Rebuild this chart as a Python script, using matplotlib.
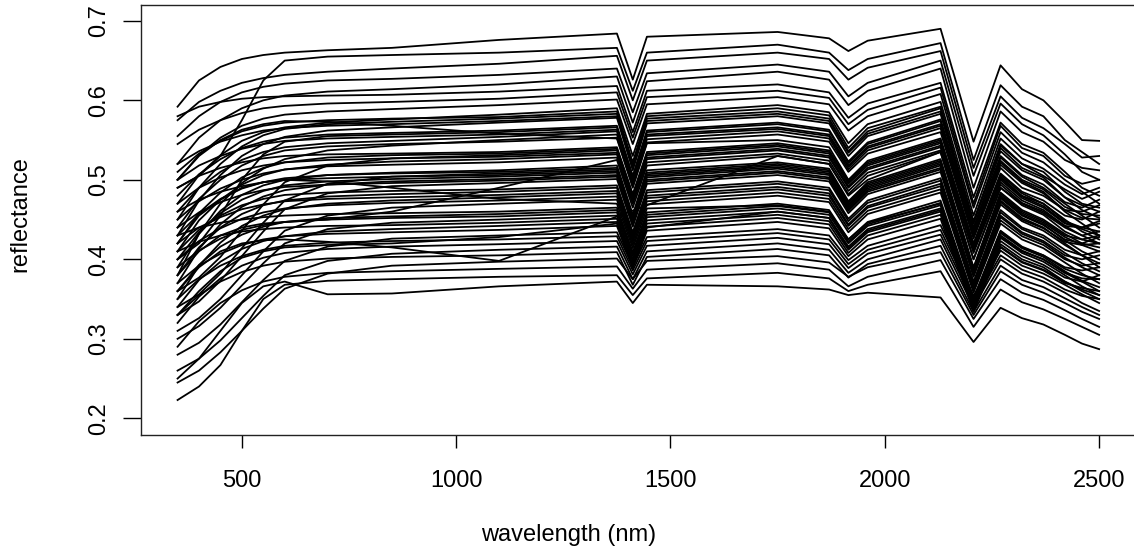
import numpy as np
import matplotlib
matplotlib.use("Agg")
import matplotlib.pyplot as plt

plt.rcParams["font.family"] = ["Liberation Sans", "DejaVu Sans"]

nan = float("nan")

wavelength_nm = [350, 400, 450, 500, 550, 600, 700, 850, 1100, 1375, 1412, 1445,
                 1750, 1870, 1915, 1960, 2130, 2207, 2270, 2320, 2370, 2420, 2460, 2500]

# brightest soils
top_tier = [
    [.592, .625, .642, .652, .657, .660, .663, .666, .676, .684, .626, .680, .686, .678, .662, .675, .690, .548, .644, .614, .600, .573, .550, .549],
    [.490, .505, .530, .575, .625, .650, .655, .657, .660, .666, .612, .660, .670, .660, .638, .652, .672, .525, .619, .592, .580, .550, .535, .520],
    [.575, .598, .612, .622, .628, .632, .636, .640, .646, .656, .600, .650, .660, .652, .626, .641, .662, .515, .605, .578, .565, .545, .528, .530],
    [.555, .580, .598, .610, .617, .621, .625, .627, .632, .640, .585, .634, .645, .636, .605, .622, .650, .505, .596, .570, .556, .532, .510, .500],
    [.520, .553, .575, .590, .600, .606, .611, .614, .620, .630, .572, .624, .636, .626, .594, .612, .640, .490, .586, .560, .548, .525, .515, .512],
    [.580, .592, .598, .602, .604, .605, .606, .607, .611, .618, .560, .612, .620, .610, .578, .596, .622, .478, .572, .545, .534, .510, .490, .480],
    [.545, .563, .575, .584, .590, .593, .596, .598, .602, .610, .553, .604, .612, .603, .570, .588, .616, .470, .568, .540, .530, .505, .495, .500],
    [.500, .531, .553, .568, .577, .582, .586, .589, .594, .601, .545, .595, .604, .595, .562, .580, .608, .465, .560, .534, .522, .500, .485, .470],
]

upper_band = [
    [.470, .506, .531, .549, .560, .566, .572, .576, .582, .590, .530, .583, .594, .585, .546, .570, .598, .455, .552, .527, .514, .494, .482, .490],
    [.510, .533, .549, .561, .568, .572, .575, .577, .579, .586, .522, .580, .590, .581, .540, .565, .592, .448, .545, .520, .510, .485, .470, .465],
    [.450, .490, .520, .542, .556, .564, .570, .573, .577, .583, .518, .577, .586, .577, .536, .561, .590, .445, .543, .520, .505, .488, .476, .485],
    [.520, .536, .548, .556, .562, .565, .568, .570, .574, .580, .517, .574, .583, .574, .534, .558, .586, .446, .540, .515, .503, .478, .462, .452],
    [.430, .474, .506, .530, .545, .554, .562, .566, .572, .578, .512, .571, .580, .571, .530, .555, .583, .440, .536, .512, .500, .478, .468, .460],
    [.480, .507, .526, .540, .548, .553, .557, .559, .562, .568, .505, .562, .572, .563, .523, .547, .576, .438, .530, .506, .494, .472, .465, .475],
    [.400, .420, .455, .500, .532, .548, .555, .557, .560, .566, .503, .560, .570, .561, .521, .545, .574, .436, .528, .504, .490, .470, .455, .440],
    [.500, .518, .530, .539, .545, .549, .552, .554, .557, .563, .501, .557, .566, .557, .518, .542, .570, .433, .524, .500, .488, .466, .457, .455],
    [.460, .490, .510, .525, .535, .541, .546, .549, .554, .561, .499, .555, .564, .555, .516, .540, .568, .432, .522, .498, .485, .460, .445, .430],
    [.380, .432, .470, .496, .514, .526, .537, .543, .550, .557, .496, .551, .561, .552, .513, .537, .565, .429, .519, .496, .483, .462, .452, .450],
    [.440, .476, .500, .518, .530, .537, .542, .545, .548, .553, .492, .547, .557, .548, .510, .533, .560, .426, .515, .490, .480, .462, .460, .468],
    [.490, .505, .515, .522, .527, .530, .532, .533, .535, .541, .482, .535, .546, .537, .499, .522, .550, .418, .506, .483, .470, .450, .435, .425],
    [.420, .458, .484, .503, .515, .522, .528, .531, .533, .539, .480, .533, .544, .535, .497, .520, .548, .416, .504, .480, .470, .448, .440, .435],
    [.360, .377, .403, .436, .469, .497, .518, .527, .531, .537, .478, .531, .542, .533, .495, .518, .546, .415, .502, .479, .467, .446, .438, .430],
    [.470, .490, .503, .512, .518, .522, .525, .527, .529, .534, .475, .528, .539, .530, .492, .515, .543, .413, .500, .477, .465, .445, .440, .448],
    [.410, .449, .475, .494, .506, .513, .519, .523, .526, .532, .473, .526, .537, .528, .490, .513, .541, .411, .497, .474, .462, .442, .430, .420],
    [.450, .473, .489, .500, .508, .513, .517, .519, .522, .528, .470, .522, .533, .524, .486, .509, .537, .408, .494, .471, .460, .442, .440, .445],
    [.500, .530, .550, .563, .570, .574, .573, .568, .558, .552, .490, .546, .550, .541, .500, .524, .552, .420, .508, .485, .474, .455, .450, .460],
]

middle_band = [
    [.390, .432, .461, .481, .493, .500, .506, .509, .512, .518, .456, .512, .522, .514, .473, .497, .526, .390, .484, .462, .450, .432, .420, .415],
    [.430, .457, .476, .489, .497, .502, .506, .508, .510, .515, .454, .509, .520, .512, .471, .495, .524, .388, .482, .460, .448, .430, .425, .430],
    [.340, .356, .382, .414, .446, .474, .495, .504, .508, .513, .452, .507, .518, .510, .469, .493, .522, .386, .480, .458, .446, .428, .418, .410],
    [.460, .475, .485, .492, .497, .500, .502, .504, .506, .511, .450, .505, .516, .508, .467, .491, .520, .385, .478, .456, .444, .424, .410, .400],
    [.400, .434, .458, .475, .486, .493, .498, .501, .504, .509, .448, .503, .514, .506, .465, .489, .518, .383, .477, .455, .443, .425, .420, .428],
    [.370, .413, .444, .466, .479, .487, .494, .498, .501, .506, .445, .500, .511, .503, .463, .487, .515, .381, .474, .452, .440, .420, .405, .395],
    [.440, .459, .472, .481, .487, .491, .494, .496, .499, .504, .444, .498, .509, .501, .461, .485, .513, .380, .472, .450, .439, .422, .418, .420],
    [.330, .347, .373, .404, .435, .463, .483, .492, .496, .501, .441, .495, .506, .498, .458, .482, .510, .378, .469, .448, .436, .418, .405, .390],
    [.410, .437, .455, .468, .476, .481, .484, .486, .488, .493, .434, .487, .498, .490, .451, .474, .502, .372, .462, .440, .430, .412, .405, .410],
    [.380, .415, .440, .457, .468, .474, .479, .482, .485, .490, .431, .484, .495, .487, .448, .471, .499, .369, .459, .438, .427, .408, .395, .385],
    [.420, .440, .453, .463, .469, .473, .476, .478, .481, .486, .428, .480, .491, .483, .444, .467, .495, .366, .455, .434, .423, .405, .400, .405],
    [.350, .392, .421, .442, .455, .463, .470, .474, .478, .483, .425, .477, .488, .480, .442, .465, .492, .364, .453, .432, .421, .402, .390, .380],
    [.400, .423, .439, .451, .459, .464, .468, .471, .474, .479, .422, .473, .484, .476, .438, .461, .488, .361, .449, .429, .418, .400, .392, .395],
    [.310, .326, .350, .380, .410, .436, .455, .465, .470, .475, .418, .469, .480, .472, .434, .457, .484, .358, .445, .425, .414, .396, .382, .370],
    [.380, .410, .430, .440, .445, .447, .450, .460, .490, .525, .465, .518, .530, .520, .482, .505, .535, .400, .490, .470, .458, .440, .430, .435],
    [.420, .455, .475, .490, .497, .500, .498, .490, .476, .470, .414, .464, .468, .460, .425, .446, .470, .350, .435, .415, .405, .388, .380, .375],
    [.360, .390, .410, .420, .424, .425, .422, .415, .398, nan, nan, nan, .530, .520, .480, .500, .535, .400, .490, .468, .456, .435, .425, .420],
]

lower_band = [
    [.430, .440, .446, .450, .453, .455, .457, .458, .460, .465, .409, .459, .470, .462, .425, .447, .474, .351, .436, .416, .405, .390, .386, .390],
    [.360, .393, .416, .431, .441, .447, .452, .454, .457, .462, .406, .456, .467, .459, .422, .444, .471, .349, .433, .414, .403, .385, .373, .365],
    [.390, .411, .426, .437, .443, .447, .450, .452, .454, .459, .404, .453, .464, .456, .420, .442, .468, .346, .430, .411, .400, .383, .376, .375],
    [.300, .316, .339, .367, .395, .420, .438, .446, .450, .455, .400, .449, .460, .452, .416, .438, .464, .343, .427, .408, .397, .380, .366, .355],
    [.410, .422, .430, .435, .438, .440, .442, .443, .446, .451, .397, .445, .456, .448, .412, .434, .460, .340, .423, .404, .393, .377, .372, .380],
    [.340, .374, .397, .413, .423, .429, .435, .438, .442, .447, .393, .441, .452, .444, .408, .430, .456, .337, .419, .400, .390, .372, .360, .350],
    [.370, .392, .407, .418, .425, .429, .432, .434, .437, .442, .389, .436, .447, .439, .404, .425, .451, .334, .415, .396, .386, .370, .364, .360],
    [.330, .360, .385, .402, .410, .415, .418, .420, .428, .445, .392, .440, .460, .452, .414, .436, .462, .345, .428, .410, .400, .383, .372, .360],
    [.280, .295, .318, .346, .374, .398, .416, .426, .430, .434, .391, .428, .438, .430, .399, .417, .443, .354, .416, .397, .387, .372, .362, .355],
    [.350, .375, .392, .404, .412, .417, .421, .423, .425, .429, .386, .423, .433, .425, .394, .412, .437, .350, .411, .392, .382, .368, .356, .345],
    [.320, .353, .376, .392, .402, .408, .413, .416, .419, .423, .381, .417, .427, .419, .389, .407, .431, .345, .405, .387, .377, .362, .354, .350],
    [.260, .275, .298, .326, .354, .380, .398, .407, .412, .416, .375, .410, .420, .412, .383, .400, .425, .340, .400, .382, .372, .358, .345, .335],
    [.330, .355, .372, .384, .392, .397, .401, .403, .405, .409, .368, .403, .413, .405, .377, .394, .417, .334, .392, .374, .365, .351, .340, .330],
    [.245, .260, .283, .310, .338, .363, .382, .392, .397, .401, .375, .398, .404, .396, .378, .390, .409, .330, .385, .368, .358, .345, .334, .325],
    [.290, .322, .345, .361, .372, .378, .383, .385, .388, .391, .363, .387, .395, .387, .366, .378, .399, .325, .375, .358, .349, .336, .325, .315],
    [.223, .240, .267, .310, .350, .368, .373, .375, .378, .380, .355, .376, .383, .376, .360, .368, .385, .315, .362, .346, .337, .325, .315, .305],
    [.250, .275, .310, .345, .366, .372, .356, .357, .366, .372, .345, .368, .366, .362, .355, .358, .352, .296, .339, .326, .318, .305, .294, .287],
]

x_ticks = [500, 1000, 1500, 2000, 2500]
y_ticks = [0.2, 0.3, 0.4, 0.5, 0.6, 0.7]

W, H, DPI = 1134, 548, 100
fig = plt.figure(figsize=(W / DPI, H / DPI), dpi=DPI)
# plot region like R's base graphics, its right edge runs just past the picture
ax = fig.add_axes([140.7 / W, 1 - 435 / H, (1136 - 140.7) / W, (435 - 4.7) / H])

wl = np.array(wavelength_nm, dtype=float)
for group in (top_tier, upper_band, middle_band, lower_band):
    for spec in group:
        r = np.array(spec, dtype=float)
        ok = ~np.isnan(r)
        ax.plot(wl[ok], r[ok], color="black", lw=1.3, solid_joinstyle="round")

ax.set_xlim(264, 2586)
ax.set_ylim(0.179, 0.7203)
ax.set_xticks(x_ticks)
ax.set_xticklabels([str(t) for t in x_ticks])
ax.set_yticks(y_ticks)
ax.set_yticklabels(["%.1f" % t for t in y_ticks], rotation=90, va="center")

for s in ax.spines.values():
    s.set_linewidth(1.0)
    s.set_color("#222222")
ax.tick_params(axis="x", length=9.4, width=1.0, pad=15.5, labelsize=17)
ax.tick_params(axis="y", length=13, width=1.0, pad=9, labelsize=17)

fig.text(569 / W, 1 - 541 / H, "wavelength (nm)", ha="center", va="baseline", fontsize=17)
fig.text(20 / W, 1 - 214 / H, "reflectance", ha="center", va="center", rotation=90, fontsize=17)

fig.savefig("out.png", dpi=DPI)
